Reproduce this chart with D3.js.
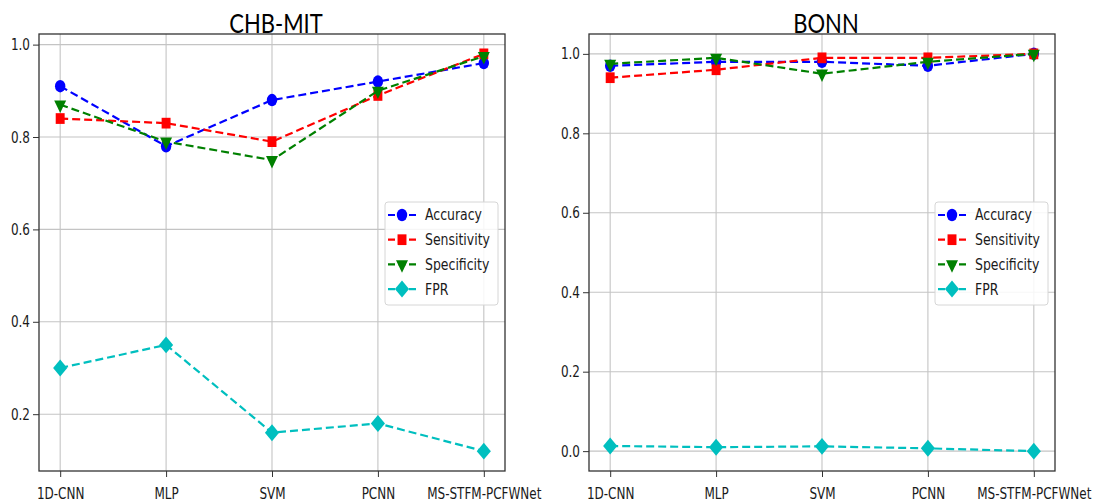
<!DOCTYPE html>
<html>
<head>
<meta charset="utf-8">
<script src="https://cdn.jsdelivr.net/npm/d3@7"></script>
<style>
  body { margin: 0; background: #fff; }
  svg { display: block; }
</style>
</head>
<body>
<div id="chart"></div>
<script>
// x categories, shared by both panels
const models = ["1D-CNN", "MLP", "SVM", "PCNN", "MS-STFM-PCFWNet"];
const metrics = ["Accuracy", "Sensitivity", "Specificity", "FPR"];

// CHB-MIT values
const chbAccuracy    = [0.91, 0.78, 0.88, 0.92, 0.96];
const chbSensitivity = [0.84, 0.83, 0.79, 0.89, 0.98];
const chbSpecificity = [0.87, 0.79, 0.75, 0.90, 0.975];
const chbFPR         = [0.30, 0.35, 0.16, 0.18, 0.12];

// BONN values
const bonnAccuracy    = [0.97, 0.98, 0.98, 0.97, 1.0];
const bonnSensitivity = [0.94, 0.96, 0.99, 0.99, 1.0];
const bonnSpecificity = [0.975, 0.99, 0.95, 0.98, 1.0];
const bonnFPR         = [0.013, 0.01, 0.012, 0.007, 0.0];

// styling per metric (matplotlib b, r, g, c)
const colors = ["#0000ff", "#ff0000", "#008000", "#00bfbf"];
const shapes = [d3.symbolCircle, d3.symbolSquare, d3.symbolTriangle, d3.symbolSquare];
const shapeSize = [85, 80, 62, 100];
const shapeRot = [0, 0, 180, 45];

var width = 1100, height = 501;
var plotTop = 34, plotBottom = 471;

var svg = d3.select("#chart")
    .append("svg")
    .attr("width", width)
    .attr("height", height);

var panels = [
    {title: "CHB-MIT", left: 39, right: 505,
     series: [chbAccuracy, chbSensitivity, chbSpecificity, chbFPR]},
    {title: "BONN", left: 589, right: 1055,
     series: [bonnAccuracy, bonnSensitivity, bonnSpecificity, bonnFPR]}
];

function marker(i) {
    return d3.symbol().type(shapes[i]).size(shapeSize[i])();
}

function drawPanel(p) {
    var x = d3.scalePoint()
        .domain(models)
        .range([p.left, p.right])
        .padding(0.2);

    // matplotlib-style 5% margins around the data
    var all = p.series.flat();
    var lo = d3.min(all), hi = d3.max(all), pad = (hi - lo) * 0.05;
    var y = d3.scaleLinear()
        .domain([lo - pad, hi + pad])
        .range([plotBottom, plotTop]);

    var g = svg.append("g");

    // grid
    g.selectAll(".vgrid").data(models).enter().append("line")
        .attr("x1", d => x(d)).attr("x2", d => x(d))
        .attr("y1", plotTop).attr("y2", plotBottom)
        .attr("stroke", "#c4c4c4").attr("stroke-width", 1.1);
    g.selectAll(".hgrid").data(y.ticks(5)).enter().append("line")
        .attr("x1", p.left).attr("x2", p.right)
        .attr("y1", d => y(d)).attr("y2", d => y(d))
        .attr("stroke", "#c4c4c4").attr("stroke-width", 1.1);

    // axes
    var xAxis = g.append("g")
        .attr("transform", "translate(0," + plotBottom + ")")
        .call(d3.axisBottom(x).tickSize(6));
    xAxis.select(".domain").remove();
    xAxis.selectAll("line").attr("stroke", "#333");
    xAxis.selectAll("text")
        .attr("y", 13)
        .attr("transform", "scale(1,1.3)")
        .attr("fill", "#1a1a1a")
        .style("font-family", "DejaVu Sans")
        .style("font-size", "12px");

    var yAxis = g.append("g")
        .attr("transform", "translate(" + p.left + ",0)")
        .call(d3.axisLeft(y).ticks(5).tickFormat(d3.format(".1f")).tickSize(6));
    yAxis.select(".domain").remove();
    yAxis.selectAll("line").attr("stroke", "#333");
    yAxis.selectAll("text")
        .attr("x", -9)
        .attr("transform", "scale(1,1.3)")
        .attr("fill", "#1a1a1a")
        .style("font-family", "DejaVu Sans")
        .style("font-size", "12px");

    // series
    p.series.forEach(function(vals, i) {
        var line = d3.line()
            .x((d, j) => x(models[j]))
            .y(d => y(d));
        g.append("path")
            .datum(vals)
            .attr("d", line)
            .attr("fill", "none")
            .attr("stroke", colors[i])
            .attr("stroke-width", 2.2)
            .attr("stroke-dasharray", "8,4");
        g.selectAll(".m" + i).data(vals).enter().append("path")
            .attr("d", marker(i))
            .attr("transform", (d, j) => "translate(" + x(models[j]) + "," + y(d) + ") scale(1,1.2) rotate(" + shapeRot[i] + ")")
            .attr("fill", colors[i]);
    });

    // frame
    g.append("rect")
        .attr("x", p.left).attr("y", plotTop)
        .attr("width", p.right - p.left).attr("height", plotBottom - plotTop)
        .attr("fill", "none").attr("stroke", "#333").attr("stroke-width", 1.3);

    // title
    g.append("text")
        .attr("transform", "translate(" + ((p.left + p.right) / 2 + 4) + ",33) scale(1,1.25)")
        .attr("text-anchor", "middle")
        .style("font-family", "Lato")
        .style("font-size", "22px")
        .attr("fill", "#000")
        .text(p.title);

    // legend
    var lw = 113, lh = 103;
    var lx = p.right - 7 - lw, ly = 202;
    var legend = g.append("g").attr("transform", "translate(" + lx + "," + ly + ")");
    legend.append("rect")
        .attr("width", lw).attr("height", lh)
        .attr("rx", 3)
        .attr("fill", "#fff").attr("fill-opacity", 0.85)
        .attr("stroke", "#d6d6d6");
    metrics.forEach(function(name, i) {
        var ey = 13 + i * 24.7;
        legend.append("line")
            .attr("x1", 3).attr("x2", 31)
            .attr("y1", ey).attr("y2", ey)
            .attr("stroke", colors[i]).attr("stroke-width", 2.2)
            .attr("stroke-dasharray", "7,3.5");
        legend.append("path")
            .attr("d", marker(i))
            .attr("transform", "translate(17," + ey + ") scale(1,1.2) rotate(" + shapeRot[i] + ")")
            .attr("fill", colors[i]);
        legend.append("text")
            .attr("transform", "translate(40," + ey + ") scale(1,1.25)")
            .attr("dy", "0.35em")
            .style("font-family", "DejaVu Sans")
            .style("font-size", "12.5px")
            .attr("fill", "#1a1a1a")
            .text(name);
    });
}

panels.forEach(drawPanel);
</script>
</body>
</html>
